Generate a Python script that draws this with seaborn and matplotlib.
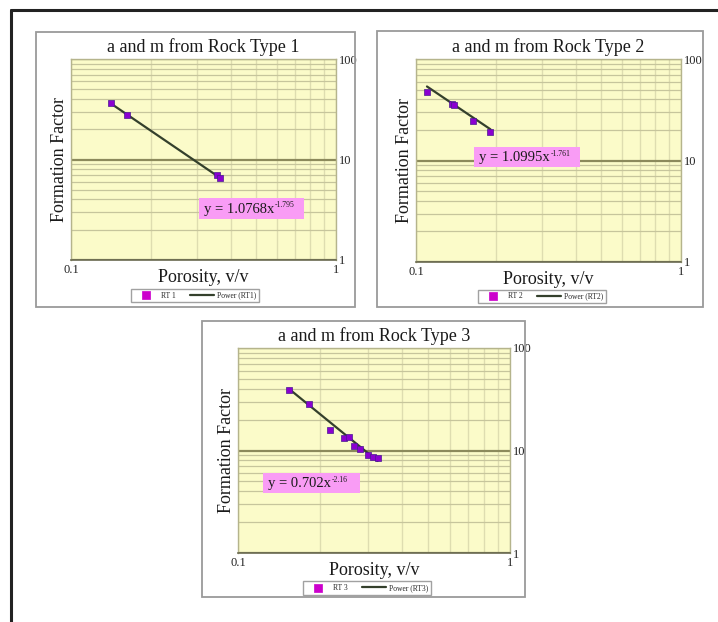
import matplotlib
matplotlib.use("Agg")
import matplotlib.pyplot as plt
import matplotlib.ticker as mticker
from matplotlib.patches import Rectangle
from matplotlib.lines import Line2D
import numpy as np
import pandas as pd
import seaborn as sns

# Porosity / formation factor readings per rock type
rt1_phi = [0.142, 0.162, 0.356, 0.366]
rt1_ff = [36.9, 28.0, 7.0, 6.5]
rt2_phi = [0.110, 0.137, 0.139, 0.164, 0.191]
rt2_ff = [47.6, 36.0, 35.5, 24.5, 19.0]
rt3_phi = [0.154, 0.182, 0.217, 0.245, 0.255, 0.267, 0.281, 0.301, 0.314, 0.326]
rt3_ff = [39.2, 28.4, 16.0, 13.2, 13.5, 11.0, 10.3, 9.1, 8.6, 8.4]

# Power-law trendlines  F = a * phi^-m
fit_a = [1.0768, 1.0995, 0.702]
fit_m = [1.795, 1.761, 2.16]
fit_a_text = ["1.0768", "1.0995", "0.702"]
fit_m_text = ["-1.795", "-1.761", "-2.16"]

titles = ["a and m from Rock Type 1", "a and m from Rock Type 2", "a and m from Rock Type 3"]
point_labels = ["RT 1", "RT 2", "RT 3"]
line_labels = ["Power (RT1)", "Power (RT2)", "Power (RT3)"]

sns.set_theme(style="white")
plt.rcParams["font.family"] = ["Liberation Serif", "DejaVu Serif"]

W, H = 718, 622
fig = plt.figure(figsize=(W / 100, H / 100), dpi=100)


def fx(px):
    return px / W


def fy(py):
    return 1 - py / H


# panel boxes (pixels: x0, y0, x1, y1) and axes areas
panel_boxes = [(36, 32, 355, 307), (377, 31, 703, 307), (202, 321, 525, 597)]
axes_px = [(71, 59, 336, 260), (416, 59, 681, 262), (238, 348, 510, 553)]
eq_px = [(199, 198, 304, 219), (474, 147, 580, 167), (263, 473, 360, 493)]
legend_px = [(138, 289, 252, 302), (481, 290, 603, 303), (306, 581, 428, 595)]

# outer frame
fig.add_artist(Line2D([fx(11), 1], [fy(10), fy(10)], color="#222222", lw=2.2))
fig.add_artist(Line2D([fx(11), fx(11)], [fy(10), 0], color="#222222", lw=2.2))

datasets = [(rt1_phi, rt1_ff), (rt2_phi, rt2_ff), (rt3_phi, rt3_ff)]

for i, (phi, ff) in enumerate(datasets):
    bx0, by0, bx1, by1 = panel_boxes[i]
    fig.add_artist(Rectangle((fx(bx0), fy(by1)), fx(bx1 - bx0), (by1 - by0) / H,
                             transform=fig.transFigure, fill=False,
                             edgecolor="#9a9a9a", lw=1.3))

    ax0, ay0, ax1, ay1 = axes_px[i]
    ax = fig.add_axes([fx(ax0), fy(ay1), fx(ax1 - ax0), (ay1 - ay0) / H])
    ax.set_facecolor("#fbfbc9")

    df = pd.DataFrame({"phi": phi, "ff": ff})
    lo, hi = min(phi), max(phi)
    trend = pd.DataFrame({"phi": [lo, hi]})
    trend["ff"] = fit_a[i] * trend["phi"] ** (-fit_m[i])

    sns.lineplot(data=trend, x="phi", y="ff", ax=ax, color="#34402c", lw=1.6,
                 label=line_labels[i], zorder=3)
    sns.scatterplot(data=df, x="phi", y="ff", ax=ax, marker="s", s=16,
                    color="#8a00d0", edgecolor="#4a1a90", linewidth=0.5,
                    label=point_labels[i], zorder=4)

    ax.set_xscale("log")
    ax.set_yscale("log")
    ax.set_xlim(0.1, 1)
    ax.set_ylim(1, 100)

    ax.grid(which="minor", axis="x", color="#deddb0", lw=1.0)
    ax.grid(which="major", axis="x", color="#deddb0", lw=1.0)
    ax.grid(which="minor", axis="y", color="#c6c59c", lw=0.9)
    ax.grid(which="major", axis="y", color="#8c8a5c", lw=1.6)
    ax.set_axisbelow(True)

    fmt = mticker.FuncFormatter(lambda v, p: f"{v:g}")
    ax.xaxis.set_major_formatter(fmt)
    ax.yaxis.set_major_formatter(fmt)
    ax.xaxis.set_minor_formatter(mticker.NullFormatter())
    ax.yaxis.set_minor_formatter(mticker.NullFormatter())
    ax.tick_params(axis="both", which="both", length=0, labelsize=9, colors="#222222")
    ax.tick_params(axis="x", pad=3)
    ax.tick_params(axis="y", labelleft=False, labelright=True, pad=2)

    for side in ["top", "left", "right"]:
        ax.spines[side].set_color("#b5b48c")
        ax.spines[side].set_linewidth(1.0)
    ax.spines["bottom"].set_color("#6a6a50")
    ax.spines["bottom"].set_linewidth(1.2)

    ax.set_title(titles[i], fontsize=13, pad=5, color="#1a1a1a")
    ax.set_xlabel("Porosity, v/v", fontsize=13, labelpad=-5, color="#1a1a1a")
    ax.set_ylabel("Formation Factor", fontsize=13, labelpad=-1, color="#1a1a1a")

    # equation box
    ex0, ey0, ex1, ey1 = eq_px[i]
    fig.add_artist(Rectangle((fx(ex0), fy(ey1)), fx(ex1 - ex0), (ey1 - ey0) / H,
                             transform=fig.transFigure, facecolor="#f99cf5",
                             edgecolor="none", zorder=5))
    main = fig.text(fx(ex0 + 5), fy((ey0 + ey1) / 2 + 1), f"y = {fit_a_text[i]}x",
                    fontsize=10.5, va="center", ha="left", zorder=6, color="#1a1a1a")
    fig.canvas.draw()
    bb = main.get_window_extent()
    fig.text(bb.x1 / W + 0.001, (bb.y1 + 2) / H, fit_m_text[i], fontsize=5.5,
             va="top", ha="left", zorder=6, color="#1a1a1a")

    # legend
    lx0, ly0, lx1, ly1 = legend_px[i]
    cx = ((lx0 + lx1) / 2 - ax0) / (ax1 - ax0)
    cy = (ay1 - (ly0 + ly1) / 2) / (ay1 - ay0)
    handles, labels = ax.get_legend_handles_labels()
    order = [labels.index(point_labels[i]), labels.index(line_labels[i])]
    leg = ax.legend([handles[k] for k in order], [labels[k] for k in order],
                    loc="center", bbox_to_anchor=(cx, cy), ncol=2, fontsize=5.5,
                    frameon=True, fancybox=False, edgecolor="#8a8a8a",
                    handlelength=3.2, handletextpad=0.4, columnspacing=1.8,
                    borderpad=0.35, markerscale=1.4)
    leg.get_frame().set_linewidth(1.0)
    leg.legend_handles[0].set_facecolor("#cc00cc")
    leg.legend_handles[0].set_edgecolor("#cc00cc")

fig.savefig("out.png", dpi=100)
